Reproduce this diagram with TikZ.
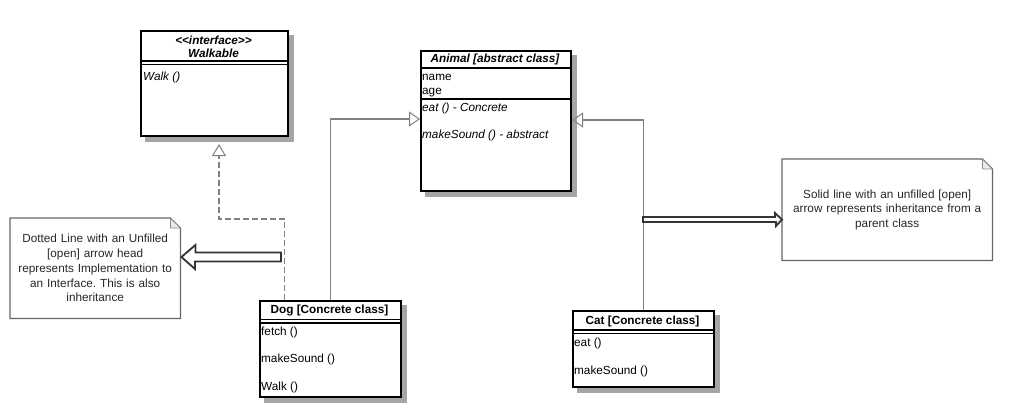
\documentclass[tikz,border=0pt]{standalone}
\usepackage{fontspec}
\setmainfont{Liberation Sans}
\usetikzlibrary{arrows.meta}
\frenchspacing
\definecolor{shadowgray}{RGB}{165,165,165}
\begin{document}
\begin{tikzpicture}[x=1bp,y=-1bp,
  cls/.style={draw=black, line width=2bp, fill=white, anchor=north west, inner sep=0pt},
  shad/.style={fill=shadowgray, draw=shadowgray, line width=1bp},
  txt/.style={font=\fontsize{11.8}{14}\selectfont, inner sep=0pt, text height=8.5bp, text depth=2.5bp},
  attr/.style={txt, anchor=west},
  ttl/.style={txt, font=\fontsize{11.8}{14}\selectfont\bfseries},
  div/.style={draw=black, line width=1.8bp},
  ddiv/.style={draw=black, line width=1.3bp},
  notebox/.style={anchor=north west, inner sep=0pt, align=center,
    font=\fontsize{11.8}{14.8}\selectfont, text=black!85},
  notebd/.style={draw=black!60, line width=1.2bp},
  conn/.style={draw=black!50, line width=1.3bp},
  inh/.style={conn, -{Triangle[open, length=11bp, width=15bp, line width=1bp]}},
  impl/.style={conn, dash pattern=on 6bp off 3bp, -{Triangle[open, length=12bp, width=14bp, line width=1bp]}},
  fat/.style={draw=black!80, line width=1.8bp, fill=white, line join=miter}
]
\useasboundingbox (0,0) rectangle (1012,418);

% ---- shadows (drawn first, behind the class boxes)
\filldraw[shad] (145,35) rectangle (293,141);
\filldraw[shad] (425,55) rectangle (576,196);
\filldraw[shad] (264,305) rectangle (406,402);
\filldraw[shad] (577,315) rectangle (719,392);

% ---- Walkable interface
\node[cls, minimum width=147bp, minimum height=105bp] (walk) at (140,30) {};
\node[ttl] (walkt1) at (213.5,41) {\itshape <\kern0pt<interface>\kern0pt>};
\node[ttl] (walkt2) at (213.5,54) {\itshape Walkable};
\draw[ddiv] (walk.west |- 0,61) -- (walk.east |- 0,61);
\draw[ddiv] (walk.west |- 0,64.5) -- (walk.east |- 0,64.5);
\node[attr] (walkm) at (143,77) {\itshape Walk ()};

% ---- Animal abstract class
\node[cls, minimum width=150bp, minimum height=140bp] (animal) at (420,50) {};
\node[ttl] (animalt) at (495,59) {\itshape Animal [abstract class]};
\draw[div] (animal.west |- 0,68) -- (animal.east |- 0,68);
\node[attr] (aname) at (422,77) {name};
\node[attr] (aage) at (422,91) {age};
\draw[div] (animal.west |- 0,99) -- (animal.east |- 0,99);
\node[attr] (aeat) at (422,108) {\itshape eat () - Concrete};
\node[attr] (asound) at (422,135) {\itshape makeSound () - abstract};

% ---- Dog
\node[cls, minimum width=141bp, minimum height=96bp] (dog) at (259,300) {};
\node[ttl] (dogt) at (329.5,310) {Dog [Concrete class]};
\draw[ddiv] (dog.west |- 0,319.5) -- (dog.east |- 0,319.5);
\draw[ddiv] (dog.west |- 0,323) -- (dog.east |- 0,323);
\node[attr] (dfetch) at (261,332) {fetch ()};
\node[attr] (dsound) at (261,359) {makeSound ()};
\node[attr] (dwalk) at (261,387) {Walk ()};

% ---- Cat
\node[cls, minimum width=141bp, minimum height=76bp] (cat) at (572,310) {};
\node[ttl] (catt) at (642.5,321) {Cat [Concrete class]};
\draw[ddiv] (cat.west |- 0,330) -- (cat.east |- 0,330);
\draw[ddiv] (cat.west |- 0,333.5) -- (cat.east |- 0,333.5);
\node[attr] (ceat) at (574,343) {eat ()};
\node[attr] (csound) at (574,371) {makeSound ()};

% ---- connectors
\draw[inh] (dog.north) |- ([yshift=2bp]animal.west);
\draw[inh] (cat.north) |- ([yshift=1bp]animal.east);
\coordinate (dstart) at ([xshift=-46bp]dog.north);
\coordinate (dbend) at (219,219);
\coordinate (wtip) at (219,144);
\draw[impl] (dstart) |- (dbend) -- (wtip);

% ---- notes
\node[notebox, minimum width=170bp, minimum height=100bp, text width=168bp] (n1) at (10,218)
  {Dotted Line with an Unfilled\\{}[open] arrow head\\ represents Implementation to\\ an Interface. This is also\\ inheritance};
\draw[notebd] (n1.north west) -- ([xshift=-10bp]n1.north east) -- ([yshift=-10bp]n1.north east)
  -- (n1.south east) -- (n1.south west) -- cycle;
\draw[draw=black!45, line width=0.8bp, fill=black!8] ([xshift=-10bp]n1.north east) -- ([xshift=-10bp,yshift=-10bp]n1.north east) -- ([yshift=-10bp]n1.north east) -- cycle;

\node[notebox, minimum width=210bp, minimum height=101bp, text width=208bp] (n2) at (782,159)
  {Solid line with an unfilled [open]\\ arrow represents inheritance from a\\ parent class};
\draw[notebd] (n2.north west) -- ([xshift=-10bp]n2.north east) -- ([yshift=-10bp]n2.north east)
  -- (n2.south east) -- (n2.south west) -- cycle;
\draw[draw=black!45, line width=0.8bp, fill=black!8] ([xshift=-10bp]n2.north east) -- ([xshift=-10bp,yshift=-10bp]n2.north east) -- ([yshift=-10bp]n2.north east) -- cycle;

% ---- fat pointer arrows
\coordinate (fa1) at (281,257);
\draw[fat] (n1.east |- fa1) ++(1,0) -- ++(14,-12) -- ++(0,7.5) -- (fa1 |- 0,252.5) -- (fa1 |- 0,261.5)
  -- (195,261.5) -- (195,269) -- cycle;
\coordinate (fa2) at (643,219.5);
\draw[fat] (n2.west |- fa2) -- ++(-7,-6.5) -- ++(0,4) -- (fa2 |- 0,217) -- (fa2 |- 0,222)
  -- (776,222) -- (776,226) -- cycle;
\end{tikzpicture}
\end{document}
